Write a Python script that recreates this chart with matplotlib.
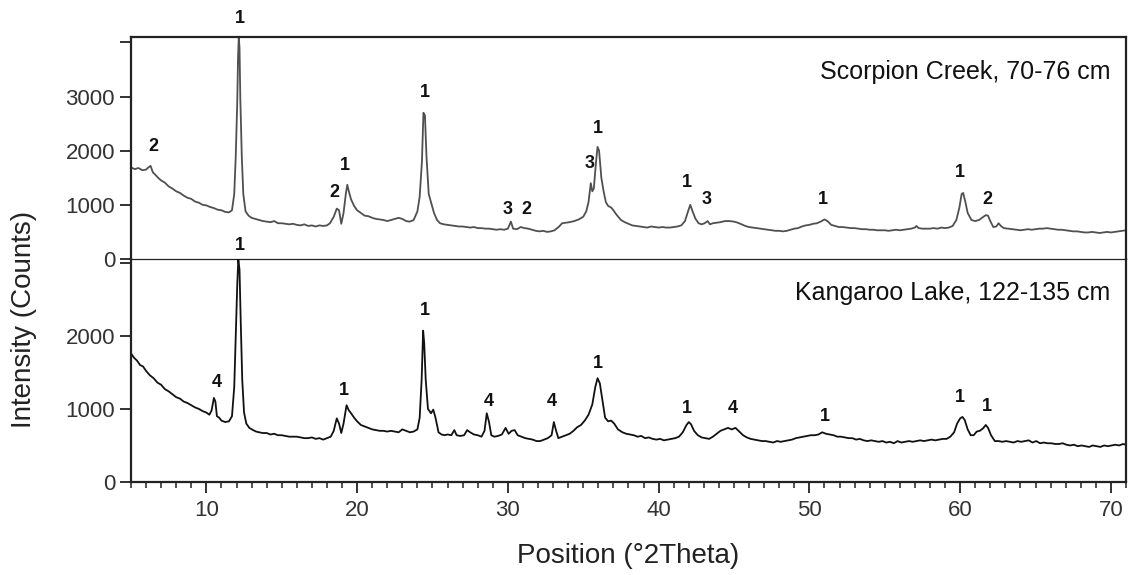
"""
XRD patterns: Scorpion Creek (70-76 cm) vs Kangaroo Lake (122-135 cm)
Two stacked panels sharing the 2-theta axis, peak labels by mineral number
"""
import matplotlib
matplotlib.use('Agg')
import matplotlib.pyplot as plt
from matplotlib.ticker import MultipleLocator

# ------------------------------------------------------------
# Data
# ------------------------------------------------------------
sc_theta = [
    5.0, 5.25, 5.5, 5.75, 6.0, 6.15, 6.3, 6.45, 6.6, 6.8, 7.0, 7.25, 7.5, 7.75,
    8.0, 8.25, 8.5, 8.75, 9.0, 9.25, 9.5, 9.75, 10.0, 10.25, 10.5, 10.75, 11.0,
    11.25, 11.5, 11.7, 11.85, 11.95, 12.05, 12.1, 12.15, 12.2, 12.25, 12.35,
    12.45, 12.6, 12.8, 13.0, 13.25, 13.5, 13.75, 14.0, 14.25, 14.5, 14.75, 15.0,
    15.25, 15.5, 15.75, 16.0, 16.25, 16.5, 16.75, 17.0, 17.25, 17.5, 17.75, 18.0,
    18.2, 18.45, 18.65, 18.8, 18.95, 19.1, 19.25, 19.35, 19.45, 19.6, 19.8, 20.0,
    20.25, 20.5, 20.75, 21.0, 21.25, 21.5, 21.75, 22.0, 22.25, 22.5, 22.75, 23.0,
    23.25, 23.5, 23.75, 24.0, 24.15, 24.3, 24.4, 24.5, 24.6, 24.75, 24.9, 25.1,
    25.3, 25.5, 25.75, 26.0, 26.25, 26.5, 26.75, 27.0, 27.25, 27.5, 27.75, 28.0,
    28.25, 28.5, 28.75, 29.0, 29.25, 29.5, 29.75, 30.0, 30.2, 30.35, 30.6, 30.85,
    31.1, 31.35, 31.6, 31.85, 32.1, 32.35, 32.6, 32.85, 33.1, 33.4, 33.6, 33.85,
    34.1, 34.4, 34.7, 35.0, 35.2, 35.35, 35.5, 35.6, 35.7, 35.85, 35.95, 36.05,
    36.2, 36.35, 36.5, 36.65, 36.85, 37.0, 37.2, 37.5, 37.75, 38.0, 38.25, 38.5,
    38.75, 39.0, 39.25, 39.5, 39.75, 40.0, 40.25, 40.5, 40.75, 41.0, 41.25, 41.5,
    41.75, 41.95, 42.1, 42.25, 42.45, 42.65, 42.85, 43.05, 43.25, 43.4, 43.6,
    43.85, 44.1, 44.4, 44.7, 45.0, 45.25, 45.5, 45.75, 46.0, 46.25, 46.5, 46.75,
    47.0, 47.25, 47.5, 47.75, 48.0, 48.25, 48.5, 48.75, 49.0, 49.25, 49.5, 49.75,
    50.0, 50.25, 50.5, 50.75, 51.0, 51.2, 51.45, 51.7, 51.95, 52.2, 52.5, 52.75,
    53.0, 53.25, 53.5, 53.75, 54.0, 54.25, 54.5, 54.75, 55.0, 55.25, 55.5, 55.75,
    56.0, 56.25, 56.5, 56.75, 57.0, 57.1, 57.25, 57.5, 57.75, 58.0, 58.25, 58.5,
    58.75, 59.0, 59.25, 59.5, 59.75, 59.95, 60.1, 60.2, 60.35, 60.5, 60.75, 61.0,
    61.25, 61.5, 61.7, 61.85, 62.0, 62.2, 62.4, 62.55, 62.7, 62.9, 63.2, 63.5,
    63.75, 64.0, 64.25, 64.5, 64.75, 65.0, 65.25, 65.5, 65.75, 66.0, 66.25, 66.5,
    66.75, 67.0, 67.25, 67.5, 67.75, 68.0, 68.25, 68.5, 68.75, 69.0, 69.25, 69.5,
    69.75, 70.0, 70.25, 70.5, 70.75, 71.0,
]
sc_counts = [
    1690, 1660, 1680, 1640, 1650, 1690, 1720, 1600, 1560, 1500, 1450, 1410, 1340,
    1300, 1250, 1220, 1170, 1130, 1110, 1060, 1040, 1000, 990, 960, 940, 910, 900,
    870, 860, 900, 1200, 1900, 2900, 3700, 4100, 3900, 3000, 1900, 1200, 880, 800,
    760, 740, 720, 700, 690, 680, 700, 660, 660, 650, 640, 650, 630, 620, 640, 610,
    620, 600, 620, 610, 620, 660, 780, 930, 900, 650, 850, 1200, 1370, 1250, 1100,
    980, 900, 850, 800, 790, 760, 740, 730, 720, 700, 720, 740, 760, 740, 700, 690,
    720, 880, 1150, 1800, 2700, 2650, 1900, 1200, 1050, 850, 720, 660, 640, 630,
    620, 610, 600, 600, 590, 580, 590, 570, 570, 560, 560, 550, 540, 550, 540, 560,
    690, 560, 550, 590, 570, 560, 540, 520, 510, 520, 500, 510, 530, 600, 660, 670,
    680, 700, 730, 780, 880, 1050, 1400, 1250, 1300, 1800, 2070, 2000, 1500, 1250,
    1050, 980, 950, 900, 820, 720, 680, 650, 620, 610, 600, 590, 580, 600, 590, 580,
    590, 580, 580, 590, 600, 620, 700, 880, 1000, 880, 740, 660, 640, 660, 700, 640,
    660, 670, 680, 700, 700, 690, 670, 640, 610, 590, 580, 570, 560, 550, 540, 530,
    520, 520, 510, 520, 540, 560, 570, 600, 620, 630, 650, 660, 690, 730, 700, 630,
    610, 590, 590, 580, 570, 570, 560, 550, 550, 540, 540, 530, 530, 530, 520, 530,
    540, 530, 540, 550, 560, 580, 610, 570, 560, 560, 560, 570, 560, 580, 570, 580,
    610, 720, 950, 1200, 1220, 1050, 850, 720, 700, 720, 770, 810, 800, 700, 590,
    600, 660, 610, 570, 560, 550, 540, 530, 540, 550, 540, 550, 560, 560, 570, 560,
    550, 540, 540, 530, 520, 510, 510, 500, 490, 490, 500, 490, 480, 490, 500, 490,
    500, 510, 520, 530,
]

kl_theta = [
    5.0, 5.2, 5.4, 5.6, 5.8, 6.0, 6.25, 6.5, 6.75, 7.0, 7.25, 7.5, 7.75, 8.0,
    8.25, 8.5, 8.75, 9.0, 9.25, 9.5, 9.75, 10.0, 10.2, 10.35, 10.5, 10.6, 10.7,
    10.85, 11.0, 11.25, 11.5, 11.7, 11.85, 11.95, 12.05, 12.12, 12.2, 12.28,
    12.38, 12.5, 12.65, 12.85, 13.1, 13.3, 13.5, 13.75, 14.0, 14.25, 14.5, 14.75,
    15.0, 15.25, 15.5, 15.75, 16.0, 16.25, 16.5, 16.75, 17.0, 17.25, 17.5, 17.75,
    18.0, 18.25, 18.45, 18.65, 18.8, 18.95, 19.1, 19.3, 19.45, 19.6, 19.8, 20.0,
    20.25, 20.5, 20.75, 21.0, 21.25, 21.5, 21.75, 22.0, 22.25, 22.5, 22.75, 23.0,
    23.25, 23.5, 23.75, 24.0, 24.15, 24.28, 24.38, 24.45, 24.55, 24.7, 24.9,
    25.05, 25.2, 25.4, 25.6, 25.8, 26.0, 26.25, 26.45, 26.6, 26.85, 27.1, 27.3,
    27.5, 27.75, 28.0, 28.25, 28.45, 28.6, 28.75, 28.9, 29.1, 29.35, 29.6, 29.85,
    30.05, 30.25, 30.45, 30.65, 30.9, 31.15, 31.4, 31.65, 31.9, 32.15, 32.4,
    32.65, 32.9, 33.05, 33.2, 33.35, 33.6, 33.85, 34.1, 34.35, 34.6, 34.85, 35.1,
    35.35, 35.6, 35.8, 35.95, 36.1, 36.25, 36.45, 36.65, 36.85, 37.05, 37.3,
    37.6, 37.85, 38.1, 38.35, 38.6, 38.85, 39.1, 39.35, 39.6, 39.85, 40.1, 40.35,
    40.6, 40.85, 41.1, 41.35, 41.6, 41.85, 42.0, 42.15, 42.35, 42.6, 42.85, 43.1,
    43.35, 43.6, 43.85, 44.1, 44.35, 44.6, 44.85, 45.1, 45.35, 45.6, 45.85, 46.1,
    46.35, 46.6, 46.85, 47.1, 47.35, 47.6, 47.85, 48.1, 48.35, 48.6, 48.85, 49.1,
    49.35, 49.6, 49.85, 50.1, 50.35, 50.6, 50.85, 51.1, 51.35, 51.6, 51.85, 52.1,
    52.35, 52.6, 52.85, 53.1, 53.35, 53.6, 53.85, 54.1, 54.35, 54.6, 54.85, 55.1,
    55.35, 55.6, 55.85, 56.1, 56.35, 56.6, 56.85, 57.1, 57.35, 57.6, 57.85, 58.1,
    58.35, 58.6, 58.85, 59.1, 59.35, 59.6, 59.8, 60.0, 60.15, 60.3, 60.5, 60.7,
    60.9, 61.1, 61.3, 61.5, 61.7, 61.85, 62.05, 62.3, 62.55, 62.8, 63.05, 63.3,
    63.55, 63.8, 64.05, 64.3, 64.55, 64.8, 65.05, 65.3, 65.55, 65.8, 66.05, 66.3,
    66.55, 66.8, 67.05, 67.3, 67.55, 67.8, 68.05, 68.3, 68.55, 68.8, 69.05, 69.3,
    69.55, 69.8, 70.05, 70.3, 70.55, 70.8, 71.0,
]
kl_counts = [
    1760, 1700, 1660, 1600, 1580, 1520, 1460, 1420, 1360, 1330, 1270, 1240, 1200,
    1160, 1140, 1100, 1080, 1050, 1020, 1000, 970, 950, 920, 980, 1150, 1100, 900,
    880, 840, 820, 830, 900, 1300, 2000, 2700, 3050, 2900, 2200, 1400, 950, 800,
    740, 710, 690, 680, 670, 670, 650, 660, 640, 640, 630, 620, 620, 620, 610, 600,
    600, 610, 590, 600, 580, 600, 620, 700, 870, 800, 670, 800, 1050, 980, 940,
    880, 830, 780, 760, 740, 720, 710, 700, 700, 690, 700, 690, 680, 720, 700, 680,
    690, 720, 880, 1400, 2070, 1900, 1400, 1000, 940, 990, 880, 680, 650, 640, 650,
    640, 710, 640, 630, 640, 710, 680, 650, 640, 620, 700, 940, 820, 640, 620, 630,
    650, 740, 660, 700, 710, 640, 620, 600, 590, 580, 560, 560, 580, 600, 640, 820,
    700, 600, 620, 640, 660, 700, 750, 780, 840, 920, 1060, 1300, 1420, 1350, 1150,
    880, 830, 840, 800, 720, 680, 660, 650, 640, 620, 630, 600, 610, 590, 580, 590,
    570, 580, 590, 600, 620, 680, 780, 820, 790, 700, 640, 610, 600, 590, 620, 660,
    700, 720, 740, 720, 740, 690, 640, 610, 590, 580, 570, 560, 560, 550, 540, 560,
    550, 560, 570, 580, 600, 610, 620, 630, 640, 640, 650, 680, 660, 650, 640, 620,
    620, 610, 600, 600, 580, 590, 570, 560, 570, 560, 550, 560, 540, 550, 530, 560,
    540, 550, 560, 550, 560, 570, 560, 570, 580, 570, 580, 590, 590, 620, 680, 800,
    870, 890, 850, 720, 640, 640, 690, 700, 730, 780, 740, 640, 560, 560, 550, 560,
    550, 540, 560, 550, 560, 570, 540, 560, 530, 540, 530, 530, 520, 520, 530, 510,
    500, 510, 490, 500, 490, 480, 500, 490, 480, 500, 490, 500, 510, 500, 520, 510,
]

# Peak labels (mineral number, 2theta, counts)
sc_peak_ids = ['1', '2', '2', '1', '1', '3', '2', '3', '1', '1', '3', '1', '1', '2']
sc_peak_x = [12.2, 6.5, 18.5, 19.2, 24.5, 30.0, 31.2, 35.4, 36.0, 41.9, 43.2, 50.9, 60.0, 61.8]
sc_peak_y = [4450, 2070, 1220, 1730, 3080, 920, 920, 1770, 2410, 1420, 1090, 1090, 1590, 1090]

kl_peak_ids = ['1', '4', '1', '1', '4', '4', '1', '1', '4', '1', '1', '1']
kl_peak_x = [12.2, 10.7, 19.1, 24.5, 28.7, 32.9, 36.0, 41.9, 44.9, 51.0, 59.95, 61.8]
kl_peak_y = [3230, 1360, 1250, 2350, 1100, 1100, 1620, 1000, 1010, 890, 1150, 1030]

# ------------------------------------------------------------
# Plot
# ------------------------------------------------------------
plt.rcParams['font.family'] = ['Liberation Sans', 'DejaVu Sans']

fig = plt.figure(figsize=(11.33, 5.75), dpi=100)
ax_top = fig.add_axes([0.1156, 0.5496, 0.8782, 0.3861])
ax_bot = fig.add_axes([0.1156, 0.1617, 0.8782, 0.3879])
for ax in (ax_top, ax_bot):
    ax.patch.set_alpha(0)

ax_top.plot(sc_theta, sc_counts, color='#505050', lw=1.3)
ax_bot.plot(kl_theta, kl_counts, color='#111111', lw=1.3)

for ax, ids, xs, ys in ((ax_top, sc_peak_ids, sc_peak_x, sc_peak_y),
                        (ax_bot, kl_peak_ids, kl_peak_x, kl_peak_y)):
    for s, x, y in zip(ids, xs, ys):
        ax.text(x, y, s, ha='center', va='center', fontsize=13,
                fontweight='bold', color='#111111', clip_on=False, zorder=5)

ax_top.text(0.984, 0.842, 'Scorpion Creek, 70-76 cm', transform=ax_top.transAxes,
            ha='right', va='center', fontsize=18, color='#111111')
ax_bot.text(0.984, 0.848, 'Kangaroo Lake, 122-135 cm', transform=ax_bot.transAxes,
            ha='right', va='center', fontsize=18, color='#111111')

# axes limits and ticks
for ax in (ax_top, ax_bot):
    ax.set_xlim(5, 71)
    ax.xaxis.set_major_locator(MultipleLocator(10))
    ax.xaxis.set_minor_locator(MultipleLocator(1))
    ax.tick_params(axis='both', which='major', direction='out', length=8,
                   width=1.3, colors='#222222', labelsize=16, labelcolor='#333333')
    ax.tick_params(axis='x', which='minor', direction='out', length=4.5,
                   width=1.1, colors='#222222')

ax_top.set_ylim(0, 4100)
ax_top.set_yticks([0, 1000, 2000, 3000, 4000])
ax_top.set_yticklabels(['0', '1000', '2000', '3000', ''])
ax_top.tick_params(axis='x', which='both', bottom=False, labelbottom=False)

ax_bot.set_ylim(0, 3050)
ax_bot.set_yticks([0, 1000, 2000, 3000])
ax_bot.set_yticklabels(['0', '1000', '2000', ''])
ax_bot.tick_params(axis='x', which='major', pad=5)

# spines
for side in ('top', 'left', 'right'):
    ax_top.spines[side].set_linewidth(1.6)
ax_top.spines['bottom'].set_linewidth(0.9)
ax_bot.spines['top'].set_visible(False)
for side in ('left', 'right', 'bottom'):
    ax_bot.spines[side].set_linewidth(1.6)
for ax in (ax_top, ax_bot):
    for sp in ax.spines.values():
        sp.set_color('#222222')

ax_bot.set_xlabel('Position (°2Theta)', fontsize=20, color='#222222', labelpad=16)
fig.text(0.021, 0.445, 'Intensity (Counts)', rotation=90, ha='center', va='center',
         fontsize=20, color='#222222')

fig.savefig('out.png', dpi=100, facecolor='white')
